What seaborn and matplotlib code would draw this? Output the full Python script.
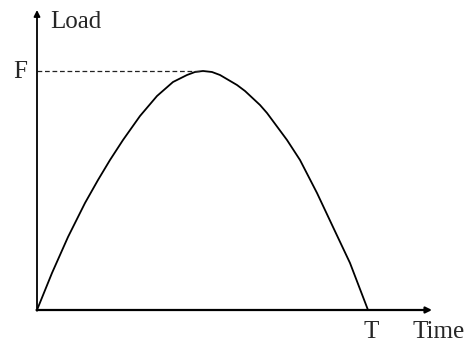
import matplotlib
matplotlib.use("Agg")
import matplotlib.pyplot as plt
import seaborn as sns
import pandas as pd

# (time from origin, load), in chart units
time = [0, 15, 31, 48, 61, 73, 86, 103, 120, 136, 150, 158, 166, 175, 183, 200, 208, 223, 230, 250, 263, 280, 296, 313, 331]
load = [0, 37, 73, 107, 130, 150, 170, 194, 214, 228, 235, 238, 239, 238, 235, 225, 219, 205, 197, 170, 150, 117, 83, 47, 0]
peak_load = 239
end_time = 331
x_max, y_max = 395, 300

sns.set_theme(style="white")
plt.rcParams['font.family'] = ['Liberation Serif', 'DejaVu Serif']

fig = plt.figure(figsize=(4.69, 3.45), dpi=100)
ax = fig.add_axes([37/469, 35/345, (432-37)/469, (310-10)/345])

df = pd.DataFrame({"Time": time, "Load": load})
sns.lineplot(data=df, x="Time", y="Load", ax=ax, color="black", lw=1.3, sort=False,
             solid_joinstyle="round", solid_capstyle="round")

ax.plot([0, 166], [peak_load, peak_load], color="#222222", lw=0.9, dashes=(3.8, 2.2))

ax.set_xlim(0, x_max)
ax.set_ylim(0, y_max)
ax.axis("off")

ax.annotate("", xy=(x_max, 0), xytext=(-0.5, 0),
            arrowprops=dict(arrowstyle="-|>", lw=1.6, color="black", mutation_scale=9, shrinkA=0, shrinkB=0))
ax.annotate("", xy=(0, y_max), xytext=(0, -0.8),
            arrowprops=dict(arrowstyle="-|>", lw=1.3, color="black", mutation_scale=9, shrinkA=0, shrinkB=0))

fs = 18
ax.text(13, 282, "Load", fontsize=fs, ha="left", va="baseline", clip_on=False)
ax.text(-17, 232, "F", fontsize=fs, ha="center", va="baseline", clip_on=False)
ax.text(end_time + 3, -28, "T", fontsize=fs, ha="center", va="baseline", clip_on=False)
ax.text(375, -28, "Time", fontsize=fs, ha="left", va="baseline", clip_on=False)

fig.savefig("out.png", dpi=100)
